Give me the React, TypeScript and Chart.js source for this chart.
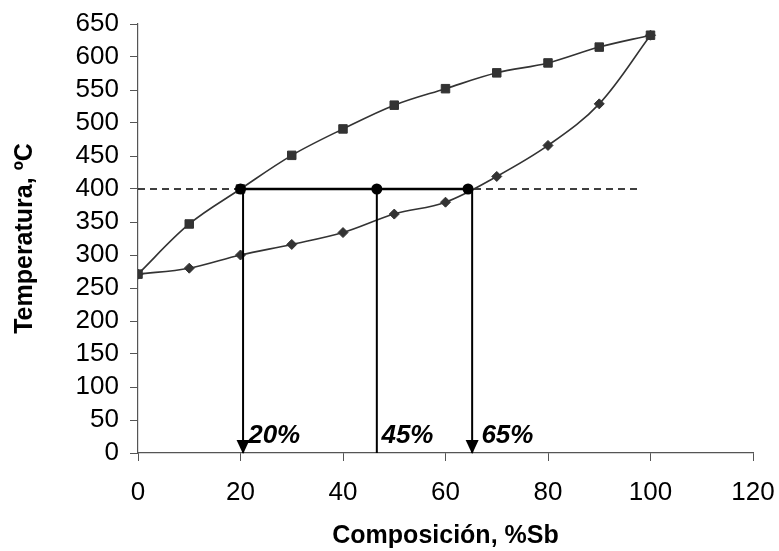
import { useEffect, useRef } from 'react';
import { Chart, registerables } from 'chart.js';

Chart.register(...registerables);

// Composition (% Sb)
const composition = [0, 10, 20, 30, 40, 50, 60, 70, 80, 90, 100];
// Liquidus temperatures (ºC) - squares
const liquidus = [271, 347, 400, 451, 491, 527, 552, 576, 591, 615, 633];
// Solidus temperatures (ºC) - diamonds
const solidus = [271, 280, 300, 316, 334, 362, 380, 419, 466, 529, 633];

// Isotherm construction
const isoTemp = 400;
const dashedRangeX = [0, 97.8];
const tieLineX = [20, 64.4];
const tiePointsX = [20, 46.6, 64.4];
const dropX = [20.5, 46.6, 65.2];
const dropHasArrow = [true, false, true];
const dropLabels = ['20%', '45%', '65%'];
const dropLabelX = [21.5, 47.5, 67];
const dropLabelY = 15;

const xMin = 0;
const xMax = 120;
const xStep = 20;
const yMin = 0;
const yMax = 650;
const yStep = 50;

const FONT = "'Liberation Sans', Arial, sans-serif";

const annotationPlugin = {
  id: 'annotations',
  afterDatasetsDraw(chart: any) {
    const ctx = chart.ctx;
    const xs = chart.scales.x;
    const ys = chart.scales.y;
    ctx.save();
    // arrowheads
    ctx.fillStyle = '#000';
    dropX.forEach((x, i) => {
      if (!dropHasArrow[i]) return;
      const px = xs.getPixelForValue(x);
      const py = ys.getPixelForValue(0);
      ctx.beginPath();
      ctx.moveTo(px, py + 1);
      ctx.lineTo(px - 6.5, py - 13);
      ctx.lineTo(px + 6.5, py - 13);
      ctx.closePath();
      ctx.fill();
    });
    // labels
    ctx.font = `italic bold 26px ${FONT}`;
    ctx.textAlign = 'left';
    ctx.textBaseline = 'alphabetic';
    dropLabels.forEach((t, i) => {
      ctx.fillText(t, xs.getPixelForValue(dropLabelX[i]), ys.getPixelForValue(dropLabelY));
    });
    ctx.restore();
  },
};

export default function App() {
  const ref = useRef<HTMLCanvasElement | null>(null);

  useEffect(() => {
    if (!ref.current) return;
    const pts = (xs: number[], ys: number[]) => xs.map((x, i) => ({ x, y: ys[i] }));

    const datasets: any[] = [
      {
        label: 'tie points',
        data: tiePointsX.map((x) => ({ x, y: isoTemp })),
        showLine: false,
        pointStyle: 'circle',
        pointRadius: 5.5,
        backgroundColor: '#000',
        borderColor: '#000',
        borderWidth: 0,
      },
      {
        label: 'tie line',
        data: tieLineX.map((x) => ({ x, y: isoTemp })),
        showLine: true,
        borderColor: '#000',
        borderWidth: 2.5,
        pointRadius: 0,
      },
      ...dropX.map((x) => ({
        label: 'drop',
        data: [
          { x, y: isoTemp },
          { x, y: 0 },
        ],
        showLine: true,
        borderColor: '#000',
        borderWidth: 2,
        pointRadius: 0,
      })),
      {
        label: 'Liquidus',
        data: pts(composition, liquidus),
        showLine: true,
        tension: 0.35,
        borderColor: '#333',
        borderWidth: 1.6,
        pointStyle: 'rect',
        pointRadius: 6,
        backgroundColor: '#333',
        pointBorderColor: '#333',
        pointBorderWidth: 1,
      },
      {
        label: 'Solidus',
        data: pts(composition, solidus),
        showLine: true,
        tension: 0.35,
        borderColor: '#333',
        borderWidth: 1.6,
        pointStyle: 'rectRot',
        pointRadius: 5,
        backgroundColor: '#333',
        pointBorderColor: '#333',
        pointBorderWidth: 1,
      },
      {
        label: 'isotherm',
        data: dashedRangeX.map((x) => ({ x, y: isoTemp })),
        showLine: true,
        borderColor: '#000',
        borderWidth: 1.5,
        borderDash: [7, 5],
        pointRadius: 0,
      },
    ];

    const chart = new Chart(ref.current, {
      type: 'scatter',
      data: { datasets },
      options: {
        animation: false,
        responsive: false,
        maintainAspectRatio: false,
        layout: { padding: { top: 24, right: 26, left: 0, bottom: 0 } },
        plugins: {
          legend: { display: false },
          tooltip: { enabled: false },
        },
        scales: {
          x: {
            type: 'linear',
            min: xMin,
            max: xMax,
            afterFit: (s: any) => {
              s.height = 98;
              s.paddingLeft = 0;
              s.paddingRight = 0;
            },
            ticks: {
              stepSize: xStep,
              autoSkip: false,
              color: '#000',
              padding: 16,
              font: { family: FONT, size: 26 },
              maxRotation: 0,
            },
            grid: {
              drawOnChartArea: false,
              drawTicks: true,
              tickLength: 8,
              color: '#555',
              lineWidth: 1,
            },
            border: { display: true, color: '#555', width: 1.2 },
            title: {
              display: true,
              text: 'Composición, %Sb',
              color: '#000',
              font: { family: FONT, size: 25, weight: 'bold' },
              padding: { top: 0, bottom: 0 },
            },
          },
          y: {
            type: 'linear',
            min: yMin,
            max: yMax,
            afterFit: (s: any) => {
              s.width = 138;
              s.paddingTop = 0;
              s.paddingBottom = 0;
            },
            ticks: {
              stepSize: yStep,
              autoSkip: false,
              color: '#000',
              padding: 11,
              font: { family: FONT, size: 26 },
            },
            grid: {
              drawOnChartArea: false,
              drawTicks: true,
              tickLength: 8,
              color: '#555',
              lineWidth: 1,
            },
            border: { display: true, color: '#555', width: 1.2 },
            title: {
              display: true,
              text: 'Temperatura, ºC',
              color: '#000',
              font: { family: FONT, size: 25, weight: 'bold' },
              padding: { top: 10, bottom: 0 },
            },
          },
        },
      },
      plugins: [annotationPlugin],
    });
    return () => chart.destroy();
  }, []);

  return (
    <div style={{ position: 'absolute', left: 0, top: 0, width: 779, height: 551, background: '#fff' }}>
      <canvas ref={ref} width={779} height={551} style={{ display: 'block' }} />
    </div>
  );
}
